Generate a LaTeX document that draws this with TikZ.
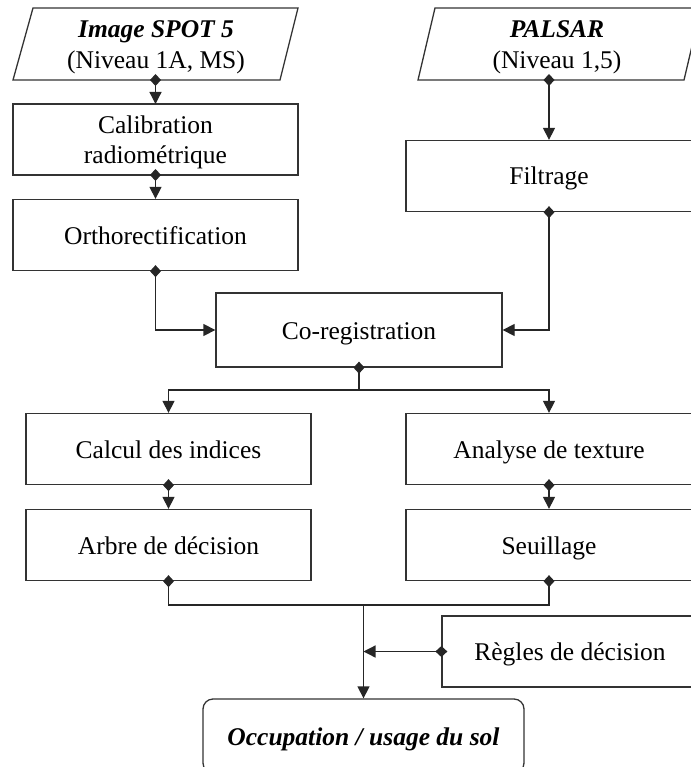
\documentclass[tikz,border=0pt]{standalone}
\usepackage{fontspec}
\setmainfont{Liberation Serif}
\usetikzlibrary{arrows.meta}
\begin{document}
\begin{tikzpicture}[x=1pt,y=-1pt,
  box/.style={draw=black!80, line width=1.3pt, rectangle, inner sep=0pt,
    minimum width=285pt, minimum height=71pt,
    font=\fontsize{25.5}{30}\selectfont, align=center},
  one/.style={text height=21pt, text depth=3pt},
  lbl/.style={inner sep=0pt, font=\fontsize{25.5}{31}\selectfont, align=center},
  pline/.style={draw=black!80, line width=1.3pt},
  conn/.style={draw=black!85, line width=1.3pt, -{Triangle[length=12pt,width=12pt]}},
  dconn/.style={draw=black!85, line width=1.3pt, {Diamond[length=12pt,width=11pt]}-{Triangle[length=12pt,width=12pt]}},
  dline/.style={draw=black!85, line width=1.3pt, {Diamond[length=12pt,width=11pt]}-}
]
\useasboundingbox (0,0) rectangle (690,767);

% input parallelograms
\draw[pline] (13,80) -- (33,8) -- (298,8) -- (280,80) -- cycle;
\node[lbl] (spot) at (156,47) {\textbf{\textit{Image SPOT 5}}\\(Niveau 1A, MS)};
\coordinate (spotb) at (155.5,80);

\draw[pline] (418,80) -- (435,8) -- (701,8) -- (684,80) -- cycle;
\node[lbl] (palsar) at (557,47) {\textbf{\textit{PALSAR}}\\(Niveau 1,5)};
\coordinate (palsarb) at (549,80);

% boxes
\draw[pline] (13,104) rectangle (298,175);
\node[lbl, font=\fontsize{25.5}{30}\selectfont] (calib) at (155.5,142) {Calibration\\radiométrique};
\coordinate (calibn) at (155.5,104);
\coordinate (calibs) at (155.5,175);
\node[box, one] (ortho) at (155.5,235) {Orthorectification};
\node[box, one, minimum width=286pt] (filt) at (549,176) {Filtrage};
\node[box, one, minimum width=286pt, minimum height=74pt] (coreg) at (359,330) {Co-registration};
\node[box, one] (calc) at (168.5,449) {Calcul des indices};
\node[box, one] (arbre) at (168.5,545) {Arbre de décision};
\node[box, one, minimum width=286pt] (anal) at (549,449) {Analyse de texture};
\node[box, one, minimum width=286pt] (seuil) at (549,545) {Seuillage};
\node[box, one, minimum width=256pt] (regles) at (570,651.5) {Règles de décision};
\node[box, one, rounded corners=10pt, minimum width=321pt, minimum height=74pt] (occ) at (363.5,736)
  {\textbf{\textit{Occupation / usage du sol}}};

\coordinate (split) at (359,390);
\coordinate (merge) at (363.5,605);

% connectors
\draw[dconn] ([yshift=6pt]spotb) -- (calibn);
\draw[dconn] ([yshift=6pt]calibs) -- (ortho.north);
\draw[dconn] ([yshift=6pt]ortho.south) |- (coreg.west);
\draw[dconn] ([yshift=6pt]palsarb) -- (filt.north);
\draw[dconn] ([yshift=6pt]filt.south) |- (coreg.east);
\draw[dline] ([yshift=6pt]coreg.south) -- (split);
\draw[conn] (split) -| (calc.north);
\draw[conn] (split) -| (anal.north);
\draw[dconn] ([yshift=6pt]calc.south) -- (arbre.north);
\draw[dconn] ([yshift=6pt]anal.south) -- (seuil.north);
\draw[dline] ([yshift=6pt]arbre.south) |- (merge);
\draw[dline] ([yshift=6pt]seuil.south) |- (merge);
\draw[conn] (merge) -- (occ.north);
\draw[dconn] ([xshift=6pt]regles.west) -- (regles.west -| merge);
\end{tikzpicture}
\end{document}
